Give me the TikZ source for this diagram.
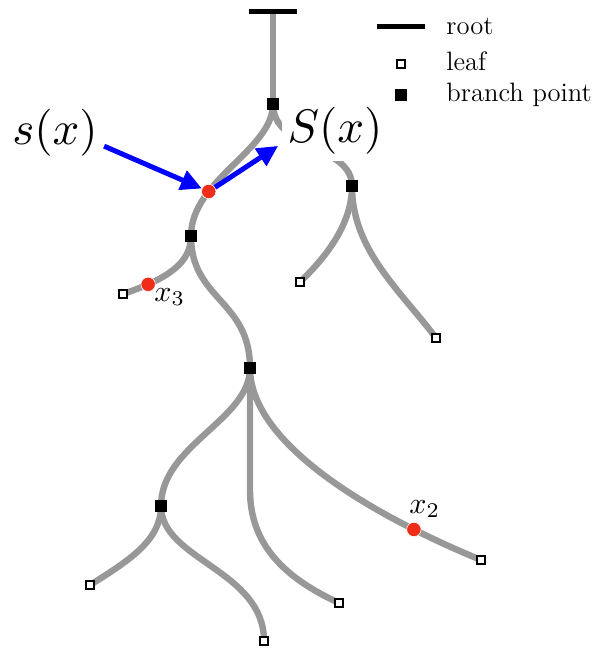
\documentclass[tikz,border=0pt]{standalone}
\usepackage{graphicx}
\usetikzlibrary{arrows.meta}
\definecolor{treegray}{RGB}{152,152,152}
\definecolor{dotred}{RGB}{240,45,25}
\definecolor{arrowblue}{RGB}{0,0,255}
\pgfdeclarelayer{bg}
\pgfsetlayers{bg,main}
\begin{document}
\begin{tikzpicture}[x=0.5pt,y=-0.5pt,
  treeline/.style={draw=treegray, line width=3.2pt},
  bpt/.style={rectangle, fill=black, inner sep=0pt, minimum size=5.6pt},
  leafbox/.style={rectangle, draw=black, fill=white, line width=0.75pt, inner sep=0pt, minimum size=4.2pt},
  reddot/.style={circle, fill=dotred, draw=white, line width=0.3pt, inner sep=0pt, minimum size=7.2pt},
  bar/.style={rectangle, fill=black, inner sep=0pt, minimum width=24pt, minimum height=2.2pt},
  legendtext/.style={anchor=base west, inner sep=0pt, font=\fontsize{13.3}{16}\selectfont},
  biglabel/.style={inner sep=3pt, fill=white},
  sublabel/.style={anchor=base west, inner sep=0pt},
  bluearrow/.style={draw=arrowblue, line width=2.5pt, -{Triangle[length=10.5pt,width=10pt]}}
]
\useasboundingbox (0,0) rectangle (600,648);

% root, branch points, leaves
\node[bar] (root) at (273,11.5) {};
\node[bpt] (b1) at (273,104) {};
\node[bpt] (b2) at (191,236) {};
\node[bpt] (b3) at (352,186) {};
\node[bpt] (b4) at (250,368) {};
\node[bpt] (b5) at (161,506) {};
\node[leafbox] (l1) at (300,282) {};
\node[leafbox] (l2) at (436,338) {};
\node[leafbox] (l3) at (123,294) {};
\node[leafbox] (l4) at (339,603) {};
\node[leafbox] (l5) at (481,560) {};
\node[leafbox] (l6) at (90,585) {};
\node[leafbox] (l7) at (264,641) {};

% labels
\node[biglabel] (sx) at (55,133) {\scalebox{2.35}{$s(x)$}};
\node[biglabel] (Sx) at (335,131) {\scalebox{2.35}{$S(x)$}};
\node[sublabel] (x3) at (154,301) {\scalebox{1.5}{$x_3$}};
\node[sublabel] (x2) at (409,513) {\scalebox{1.5}{$x_2$}};

% tree edges
\begin{pgfonlayer}{bg}
\draw[treeline] (root.center) -- (b1.center);
\draw[treeline] (b1.center) .. controls (273,150) and (191,180) .. (b2.center)
  node[reddot,pos=0.7] (r1) {};
\draw[treeline] (b1.center) .. controls (273,150) and (352,145) .. (b3.center);
\draw[treeline] (b3.center) .. controls (352,225) and (325,258) .. (l1.center);
\draw[treeline] (b3.center) .. controls (352,250) and (400,290) .. (l2.center);
\draw[treeline] (b2.center) .. controls (191,262) and (170,278) .. (l3.center)
  node[reddot,pos=0.8] (r3) {};
\draw[treeline] (b2.center) .. controls (191,300) and (250,300) .. (b4.center);
\draw[treeline] (b4.center) .. controls (250,420) and (161,445) .. (b5.center);
\draw[treeline] (b4.center) -- (250,490) .. controls (250,545) and (285,578) .. (l4.center);
\draw[treeline] (b4.center) .. controls (250,440) and (360,510) .. (l5.center)
  node[reddot,pos=0.81] (r2) {};
\draw[treeline] (b5.center) .. controls (161,540) and (130,560) .. (l6.center);
\draw[treeline] (b5.center) .. controls (161,560) and (264,570) .. (l7.center);
\end{pgfonlayer}

% arrows
\draw[bluearrow] (sx.-15) -- (r1);
\draw[bluearrow] (r1) -- ([shift={(-3,-15)}]Sx.south west);

% legend
\node[bar] (legroot) at (400.5,26.5) {};
\node[legendtext] (troot) at (446,34) {root};
\node[leafbox] (legleaf) at (401,64) {};
\node[legendtext] (tleaf) at (446,70) {leaf};
\node[bpt] (legbp) at (401,95) {};
\node[legendtext] (tbp) at (446,101) {branch point};
\end{tikzpicture}
\end{document}
